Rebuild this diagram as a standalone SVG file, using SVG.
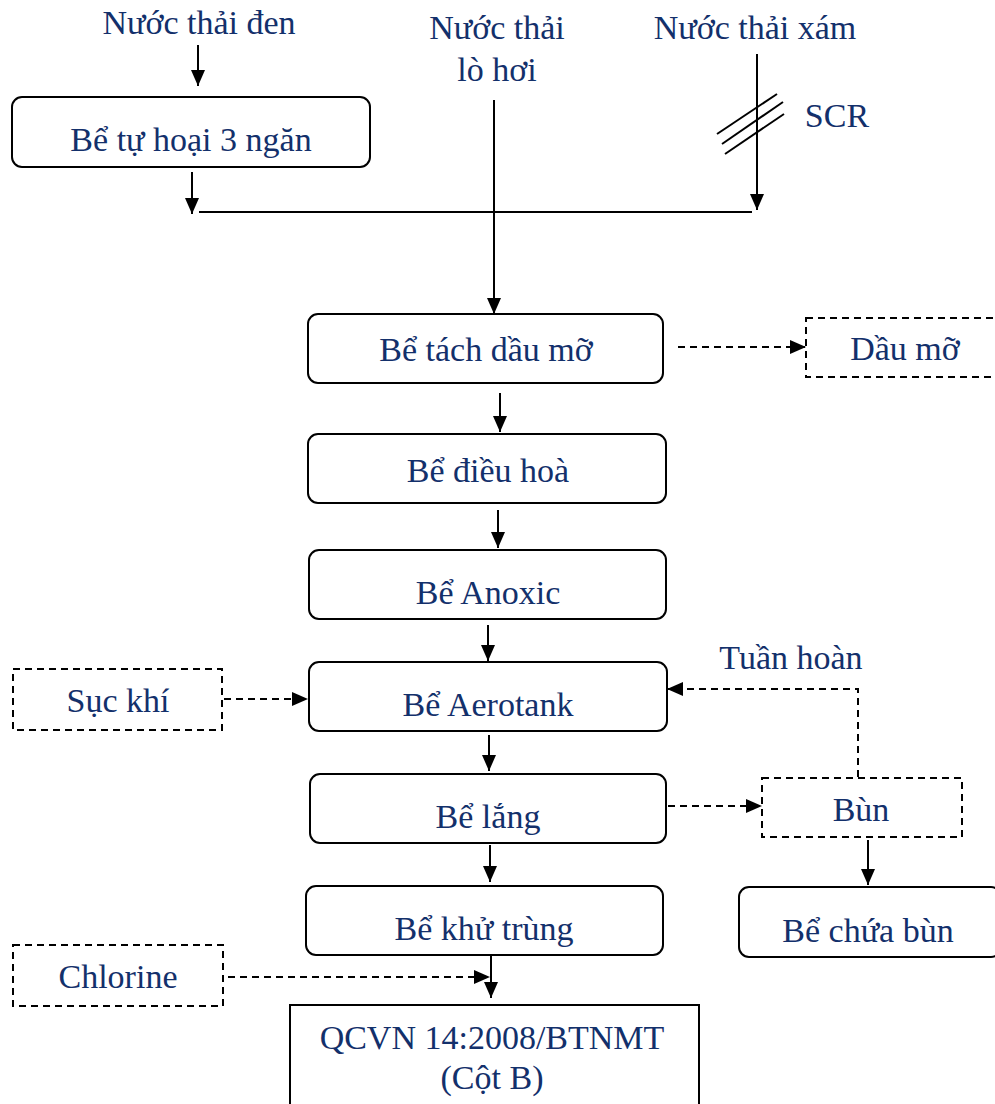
<svg xmlns="http://www.w3.org/2000/svg" width="995" height="1104" viewBox="0 0 995 1104">
<defs>
<marker id="ah" viewBox="0 0 16 14" refX="16" refY="7" markerWidth="16" markerHeight="14" markerUnits="userSpaceOnUse" orient="auto">
<path d="M0,0 L16,7 L0,14 Z" fill="#000"/>
</marker>
</defs>
<style>
text{font-family:"Liberation Serif","Times New Roman",serif;font-size:34px;fill:#13306b;text-anchor:middle}
.box{fill:#fff;stroke:#000;stroke-width:2}
.dbox{fill:#fff;stroke:#000;stroke-width:2;stroke-dasharray:7,5}
.ln{fill:none;stroke:#000;stroke-width:2}
.ar{fill:none;stroke:#000;stroke-width:2;marker-end:url(#ah)}
.da{fill:none;stroke:#000;stroke-width:2;stroke-dasharray:7,5;marker-end:url(#ah)}
</style>
<rect width="995" height="1104" fill="#fff"/>
<g id="connectors">
<line class="ar" x1="198" y1="45" x2="198" y2="86"/>
<line class="ar" x1="192" y1="172" x2="192" y2="214"/>
<line class="ln" x1="199" y1="212" x2="752" y2="212"/>
<line class="ar" x1="494" y1="100" x2="494" y2="314"/>
<line class="ar" x1="757" y1="54" x2="757" y2="210"/>
<line class="ln" x1="717" y1="134" x2="777" y2="94"/>
<line class="ln" x1="722" y1="144" x2="783" y2="102"/>
<line class="ln" x1="725" y1="154" x2="784" y2="114"/>
<line class="da" x1="678" y1="347" x2="806" y2="347"/>
<line class="ar" x1="500" y1="393" x2="500" y2="432"/>
<line class="ar" x1="498" y1="510" x2="498" y2="548"/>
<line class="ar" x1="488" y1="625" x2="488" y2="661"/>
<polyline class="da" points="858,777 858,689 667,689"/>
<line class="da" x1="224" y1="699" x2="308" y2="699"/>
<line class="ar" x1="489" y1="735" x2="489" y2="771"/>
<line class="da" x1="668" y1="806" x2="762" y2="806"/>
<line class="ar" x1="868" y1="840" x2="868" y2="885"/>
<line class="ar" x1="490" y1="845" x2="490" y2="882"/>
<line class="ar" x1="491" y1="956" x2="491" y2="998"/>
<line class="da" x1="228" y1="977" x2="490" y2="977"/>
</g>
<g id="n-den"><text x="199" y="34">Nước thải đen</text></g>
<g id="n-lohoi"><text x="497" y="39">Nước thải</text><text x="497" y="81">lò hơi</text></g>
<g id="n-xam"><text x="755" y="39">Nước thải xám</text></g>
<g id="n-scr"><text x="837" y="127">SCR</text></g>
<g id="n-tuhoai"><rect class="box" x="12" y="97" width="358" height="70" rx="10"/><text x="191" y="151">Bể tự hoại 3 ngăn</text></g>
<g id="n-tach"><rect class="box" x="308" y="314" width="355" height="69" rx="10"/><text x="486" y="361">Bể tách dầu mỡ</text></g>
<g id="n-daumo"><rect class="dbox" x="806" y="318" width="195" height="59"/><text x="905" y="360">Dầu mỡ</text></g>
<g id="n-dieuhoa"><rect class="box" x="308" y="434" width="358" height="69" rx="10"/><text x="488" y="482">Bể điều hoà</text></g>
<g id="n-anoxic"><rect class="box" x="309" y="550" width="357" height="69" rx="10"/><text x="488" y="604">Bể Anoxic</text></g>
<g id="n-tuanhoan"><text x="791" y="669">Tuần hoàn</text></g>
<g id="n-aerotank"><rect class="box" x="309" y="662" width="358" height="69" rx="10"/><text x="488" y="716">Bể Aerotank</text></g>
<g id="n-suckhi"><rect class="dbox" x="13" y="669" width="209" height="61"/><text x="118" y="712">Sục khí</text></g>
<g id="n-lang"><rect class="box" x="310" y="774" width="356" height="69" rx="10"/><text x="488" y="828">Bể lắng</text></g>
<g id="n-bun"><rect class="dbox" x="762" y="778" width="200" height="59"/><text x="861" y="821">Bùn</text></g>
<g id="n-chuabun"><rect class="box" x="739" y="887" width="262" height="70" rx="10"/><text x="868" y="942">Bể chứa bùn</text></g>
<g id="n-khutrung"><rect class="box" x="306" y="886" width="357" height="69" rx="10"/><text x="484" y="940">Bể khử trùng</text></g>
<g id="n-chlorine"><rect class="dbox" x="13" y="945" width="210" height="61"/><text x="118" y="988">Chlorine</text></g>
<g id="n-qcvn"><rect class="box" x="290" y="1005" width="409" height="110"/><text x="492" y="1049">QCVN 14:2008/BTNMT</text><text x="492" y="1089">(Cột B)</text></g>
</svg>
